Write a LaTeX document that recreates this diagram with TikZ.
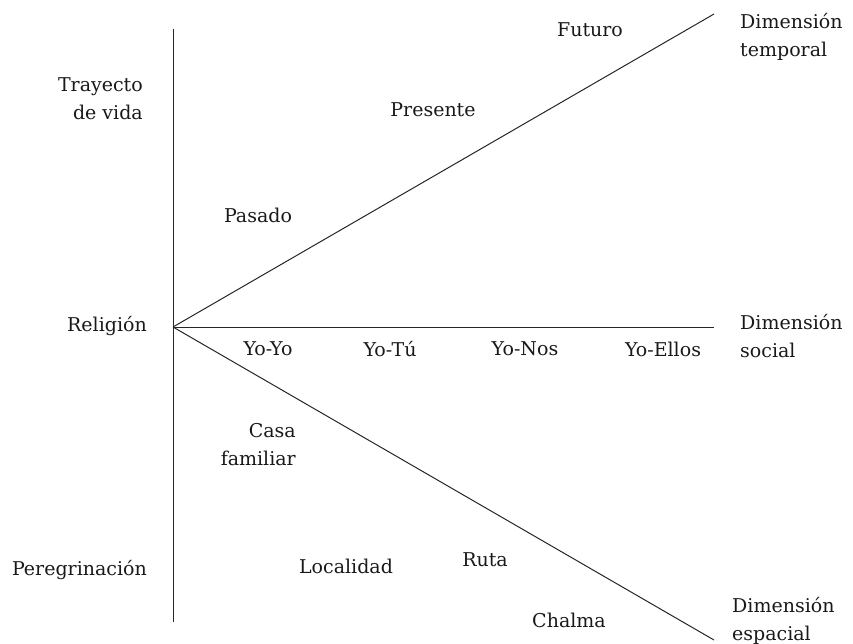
\documentclass[tikz,border=0pt]{standalone}
\usepackage{fontspec}
\setmainfont{DejaVu Serif}
\begin{document}
\begin{tikzpicture}[x=1pt,y=-1pt,
  lbl/.style={inner sep=0pt,font=\fontsize{19}{28}\selectfont,text=black!90},
  lblr/.style={lbl,align=right,anchor=east},
  lbll/.style={lbl,align=left,anchor=west},
  axis/.style={line width=1pt,black!85}]
\useasboundingbox (0,0) rectangle (853,644);
\coordinate (O) at (173,327);
\coordinate (top) at (173,29);
\coordinate (bot) at (173,622);
\coordinate (tmp) at (714,14);
\coordinate (soc) at (714,327);
\coordinate (esp) at (714,640);
\draw[axis] (top) -- (bot);
\draw[axis] (O) -- (tmp);
\draw[axis] (O) -- (soc);
\draw[axis] (O) -- (esp);
% left column
\node[lblr] (trayecto) at (143,99) {Trayecto\\de vida};
\node[lblr] (religion) at (147,326) {Religión};
\node[lblr] (peregrinacion) at (147,570) {Peregrinación};
% time
\node[lbl] (futuro) at (590,30) {Futuro};
\node[lbl] (presente) at (433,110) {Presente};
\node[lbl] (pasado) at (258,215) {Pasado};
% social
\foreach \x/\t/\n in {268/Yo-Yo/yoyo,390/Yo-Tú/yotu,525/Yo-Nos/yonos,663/Yo-Ellos/yoellos}
  \node[lbl] (\n) at (\x,349) {\t};
% space
\node[lblr] (casa) at (296,445) {Casa\\familiar};
\node[lbl] (localidad) at (346,566) {Localidad};
\node[lbl] (ruta) at (485,560) {Ruta};
\node[lbl] (chalma) at (569,620) {Chalma};
% dimensions
\node[lbll] (dtemporal) at (740,37) {Dimensión\\temporal};
\node[lbll] (dsocial) at (740,336) {Dimensión\\social};
\node[lbll] (despacial) at (732,621) {Dimensión\\espacial};
\end{tikzpicture}
\end{document}
